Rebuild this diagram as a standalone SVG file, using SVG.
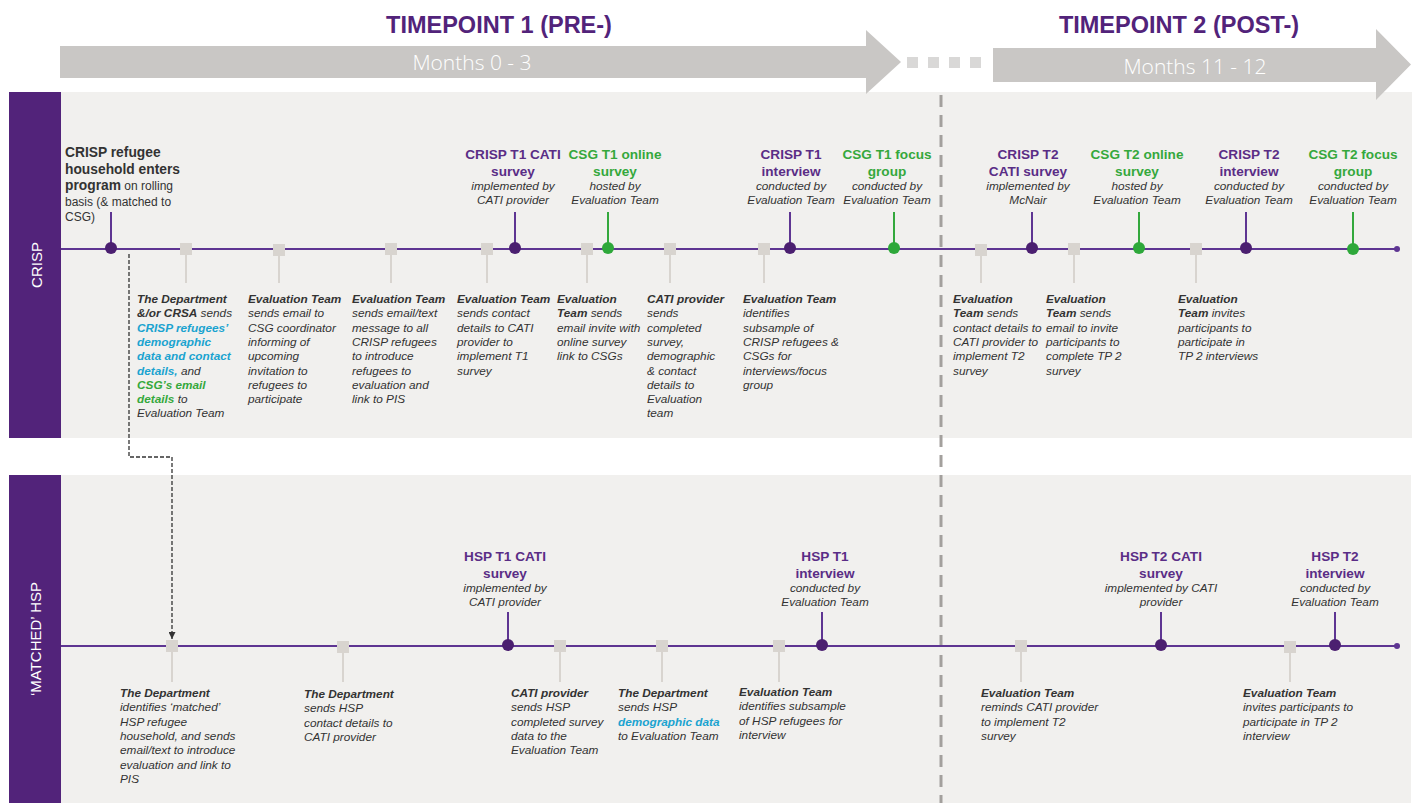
<svg xmlns="http://www.w3.org/2000/svg" width="1416" height="803" viewBox="0 0 1416 803">
<defs>
<style>
.band{fill:#f1f0ee}
.side{fill:#52237a}
.side-label{font-family:"Liberation Sans",Arial,sans-serif;font-size:15px;fill:#ffffff;text-anchor:middle}
.tp{font-family:"Liberation Sans",Arial,sans-serif;font-size:23.5px;font-weight:bold;fill:#52237a;text-anchor:middle}
.months{font-family:"Open Sans",sans-serif;font-size:21px;font-weight:300;fill:#ffffff;text-anchor:middle}
.hdr-arrow{fill:#c9c7c5}
.gap-dot{fill:#d9d8d7}
.axis{stroke:#5e3592;stroke-width:2}
.end{fill:#5e3592}
.stem-p{stroke:#5e3592;stroke-width:2}
.stem-g{stroke:#33a83c;stroke-width:2}
.dot-p{fill:#4b1f70}
.dot-g{fill:#2ea83a}
.step{fill:#d8d4cf}
.stem-s{stroke:#d8d4cf;stroke-width:2}
.ttl{font-family:"Liberation Sans",Arial,sans-serif;font-size:13.6px;font-weight:bold;text-anchor:middle}
.ttl-p{fill:#5a2d86}
.ttl-g{fill:#35a83c}
.sub{font-family:"Liberation Sans",Arial,sans-serif;font-size:11.8px;font-style:italic;fill:#333333;text-anchor:middle}
.desc{font-family:"Liberation Sans",Arial,sans-serif;font-size:11.8px;font-style:italic;fill:#333333}
.lead{font-family:"Liberation Sans",Arial,sans-serif;font-size:12px;fill:#333333}
.lead-b{font-size:13.8px;font-weight:bold}
.b{font-weight:bold}
.cy{fill:#1aa3d0;font-weight:bold}
.gr{fill:#35a83c;font-weight:bold}
.divider{stroke:#a3a09d;stroke-width:3;stroke-dasharray:12 8}
.link{fill:none;stroke:#333333;stroke-width:1.3;stroke-dasharray:4 2}
</style>
<marker id="tip" viewBox="0 0 8 8" refX="8" refY="4" markerWidth="7" markerHeight="7" markerUnits="userSpaceOnUse" orient="auto">
<path d="M0,0 L8,4 L0,8 z" fill="#333333"/>
</marker>
</defs>

<!-- swimlane backgrounds -->
<g id="lanes">
<rect class="band" x="61" y="92" width="1351" height="346"/>
<rect class="side" x="9" y="92" width="52" height="346"/>
<text class="side-label" transform="translate(41.5,265) rotate(-90)">CRISP</text>
<rect class="band" x="61" y="475" width="1350" height="328"/>
<rect class="side" x="9" y="475" width="52" height="328"/>
<text class="side-label" transform="translate(41,639) rotate(-90)">‘MATCHED’ HSP</text>
</g>

<!-- boundary between the two timepoints -->
<line class="divider" x1="941" y1="95" x2="941" y2="803"/>

<!-- timepoint header arrows -->
<g id="header">
<polygon class="hdr-arrow" points="60,46 866,46 866,30 901,62 866,94 866,78 60,78"/>
<rect class="gap-dot" x="907" y="57" width="11" height="11"/>
<rect class="gap-dot" x="928" y="57" width="11" height="11"/>
<rect class="gap-dot" x="949" y="57" width="11" height="11"/>
<rect class="gap-dot" x="970" y="57" width="11" height="11"/>
<polygon class="hdr-arrow" points="993,48 1376,48 1376,29 1411,64.5 1376,100 1376,82 993,82"/>
<text class="tp" x="499" y="33">TIMEPOINT 1 (PRE-)</text>
<text class="tp" x="1179" y="33">TIMEPOINT 2 (POST-)</text>
<text class="months" x="472" y="70">Months 0 - 3</text>
<text class="months" x="1195" y="74">Months 11 - 12</text>
</g>

<!-- timeline axes -->
<g id="axes">
<line class="axis" x1="61" y1="249" x2="1397" y2="249"/>
<circle class="end" cx="1397" cy="249" r="3"/>
<line class="axis" x1="61" y1="646" x2="1397" y2="646"/>
<circle class="end" cx="1397" cy="646" r="3"/>
</g>

<!-- connectors -->
<g id="connectors">
<path class="link" d="M129,254 V457 H172 V639" marker-end="url(#tip)"/>
</g>

<!-- ===== CRISP lane: milestones ===== -->
<g id="crisp-enter">
<line class="stem-p" x1="111" y1="212" x2="111" y2="248"/>
<circle class="dot-p" cx="111" cy="248" r="6"/>
<text class="lead" x="65" y="157"><tspan class="lead-b">CRISP refugee</tspan><tspan x="65" y="173.5" class="lead-b">household enters</tspan><tspan x="65" y="190" class="lead-b">program</tspan> on rolling<tspan x="65" y="206">basis (&amp; matched to</tspan><tspan x="65" y="221">CSG)</tspan></text>
</g>

<g id="crisp-t1-cati">
<line class="stem-p" x1="515" y1="212" x2="515" y2="248"/>
<circle class="dot-p" cx="515" cy="248" r="6"/>
<text class="ttl ttl-p" x="513" y="159">CRISP T1 CATI<tspan x="513" y="176">survey</tspan></text>
<text class="sub" x="513" y="190">implemented by<tspan x="513" y="204">CATI provider</tspan></text>
</g>

<g id="csg-t1-online">
<line class="stem-g" x1="608" y1="212" x2="608" y2="248"/>
<circle class="dot-g" cx="608" cy="248" r="6"/>
<text class="ttl ttl-g" x="615" y="159">CSG T1 online<tspan x="615" y="176">survey</tspan></text>
<text class="sub" x="615" y="190">hosted by<tspan x="615" y="204">Evaluation Team</tspan></text>
</g>

<g id="crisp-t1-interview">
<line class="stem-p" x1="790" y1="212" x2="790" y2="248"/>
<circle class="dot-p" cx="790" cy="248" r="6"/>
<text class="ttl ttl-p" x="791" y="159">CRISP T1<tspan x="791" y="176">interview</tspan></text>
<text class="sub" x="791" y="190">conducted by<tspan x="791" y="204">Evaluation Team</tspan></text>
</g>

<g id="csg-t1-focus">
<line class="stem-g" x1="894" y1="212" x2="894" y2="248"/>
<circle class="dot-g" cx="894" cy="248" r="6"/>
<text class="ttl ttl-g" x="887" y="159">CSG T1 focus<tspan x="887" y="176">group</tspan></text>
<text class="sub" x="887" y="190">conducted by<tspan x="887" y="204">Evaluation Team</tspan></text>
</g>

<g id="crisp-t2-cati">
<line class="stem-p" x1="1032" y1="212" x2="1032" y2="248"/>
<circle class="dot-p" cx="1032" cy="248" r="6"/>
<text class="ttl ttl-p" x="1028" y="159">CRISP T2<tspan x="1028" y="176">CATI survey</tspan></text>
<text class="sub" x="1028" y="190">implemented by<tspan x="1028" y="204">McNair</tspan></text>
</g>

<g id="csg-t2-online">
<line class="stem-g" x1="1139" y1="212" x2="1139" y2="248"/>
<circle class="dot-g" cx="1139" cy="248" r="6"/>
<text class="ttl ttl-g" x="1137" y="159">CSG T2 online<tspan x="1137" y="176">survey</tspan></text>
<text class="sub" x="1137" y="190">hosted by<tspan x="1137" y="204">Evaluation Team</tspan></text>
</g>

<g id="crisp-t2-interview">
<line class="stem-p" x1="1246" y1="212" x2="1246" y2="248"/>
<circle class="dot-p" cx="1246" cy="248" r="6"/>
<text class="ttl ttl-p" x="1249" y="159">CRISP T2<tspan x="1249" y="176">interview</tspan></text>
<text class="sub" x="1249" y="190">conducted by<tspan x="1249" y="204">Evaluation Team</tspan></text>
</g>

<g id="csg-t2-focus">
<line class="stem-g" x1="1353" y1="212" x2="1353" y2="249"/>
<circle class="dot-g" cx="1353" cy="249" r="6"/>
<text class="ttl ttl-g" x="1353" y="159">CSG T2 focus<tspan x="1353" y="176">group</tspan></text>
<text class="sub" x="1353" y="190">conducted by<tspan x="1353" y="204">Evaluation Team</tspan></text>
</g>

<!-- ===== CRISP lane: process steps ===== -->
<g id="crisp-step-1">
<line class="stem-s" x1="186" y1="250" x2="186" y2="283"/>
<rect class="step" x="180" y="243" width="12" height="12"/>
<text class="desc" x="137" y="303"><tspan class="b">The Department</tspan><tspan x="137" dy="14.3"><tspan class="b">&amp;/or CRSA</tspan> sends</tspan><tspan x="137" dy="14.3" class="cy">CRISP refugees’</tspan><tspan x="137" dy="14.3" class="cy">demographic</tspan><tspan x="137" dy="14.3" class="cy">data and contact</tspan><tspan x="137" dy="14.3"><tspan class="cy">details,</tspan> and</tspan><tspan x="137" dy="14.3" class="gr">CSG’s email</tspan><tspan x="137" dy="14.3"><tspan class="gr">details</tspan> to</tspan><tspan x="137" dy="14.3">Evaluation Team</tspan></text>
</g>

<g id="crisp-step-2">
<line class="stem-s" x1="279" y1="250" x2="279" y2="283"/>
<rect class="step" x="273" y="244" width="12" height="12"/>
<text class="desc" x="248" y="303"><tspan class="b">Evaluation Team</tspan><tspan x="248" dy="14.3">sends email to</tspan><tspan x="248" dy="14.3">CSG coordinator</tspan><tspan x="248" dy="14.3">informing of</tspan><tspan x="248" dy="14.3">upcoming</tspan><tspan x="248" dy="14.3">invitation to</tspan><tspan x="248" dy="14.3">refugees to</tspan><tspan x="248" dy="14.3">participate</tspan></text>
</g>

<g id="crisp-step-3">
<line class="stem-s" x1="391" y1="250" x2="391" y2="283"/>
<rect class="step" x="385" y="243" width="12" height="12"/>
<text class="desc" x="352" y="303"><tspan class="b">Evaluation Team</tspan><tspan x="352" dy="14.3">sends email/text</tspan><tspan x="352" dy="14.3">message to all</tspan><tspan x="352" dy="14.3">CRISP refugees</tspan><tspan x="352" dy="14.3">to introduce</tspan><tspan x="352" dy="14.3">refugees to</tspan><tspan x="352" dy="14.3">evaluation and</tspan><tspan x="352" dy="14.3">link to PIS</tspan></text>
</g>

<g id="crisp-step-4">
<line class="stem-s" x1="487" y1="250" x2="487" y2="283"/>
<rect class="step" x="481" y="243" width="12" height="12"/>
<text class="desc" x="457" y="303"><tspan class="b">Evaluation Team</tspan><tspan x="457" dy="14.3">sends contact</tspan><tspan x="457" dy="14.3">details to CATI</tspan><tspan x="457" dy="14.3">provider to</tspan><tspan x="457" dy="14.3">implement T1</tspan><tspan x="457" dy="14.3">survey</tspan></text>
</g>

<g id="crisp-step-5">
<line class="stem-s" x1="587" y1="250" x2="587" y2="283"/>
<rect class="step" x="581" y="243" width="12" height="12"/>
<text class="desc" x="557" y="303"><tspan class="b">Evaluation</tspan><tspan x="557" dy="14.3"><tspan class="b">Team</tspan> sends</tspan><tspan x="557" dy="14.3">email invite with</tspan><tspan x="557" dy="14.3">online survey</tspan><tspan x="557" dy="14.3">link to CSGs</tspan></text>
</g>

<g id="crisp-step-6">
<line class="stem-s" x1="670" y1="250" x2="670" y2="283"/>
<rect class="step" x="664" y="243" width="12" height="12"/>
<text class="desc" x="647" y="303"><tspan class="b">CATI provider</tspan><tspan x="647" dy="14.3">sends</tspan><tspan x="647" dy="14.3">completed</tspan><tspan x="647" dy="14.3">survey,</tspan><tspan x="647" dy="14.3">demographic</tspan><tspan x="647" dy="14.3">&amp; contact</tspan><tspan x="647" dy="14.3">details to</tspan><tspan x="647" dy="14.3">Evaluation</tspan><tspan x="647" dy="14.3">team</tspan></text>
</g>

<g id="crisp-step-7">
<line class="stem-s" x1="764" y1="250" x2="764" y2="283"/>
<rect class="step" x="758" y="243" width="12" height="12"/>
<text class="desc" x="743" y="303"><tspan class="b">Evaluation Team</tspan><tspan x="743" dy="14.3">identifies</tspan><tspan x="743" dy="14.3">subsample of</tspan><tspan x="743" dy="14.3">CRISP refugees &amp;</tspan><tspan x="743" dy="14.3">CSGs for</tspan><tspan x="743" dy="14.3">interviews/focus</tspan><tspan x="743" dy="14.3">group</tspan></text>
</g>

<g id="crisp-step-8">
<line class="stem-s" x1="981" y1="250" x2="981" y2="283"/>
<rect class="step" x="975" y="244" width="12" height="12"/>
<text class="desc" x="953" y="303"><tspan class="b">Evaluation</tspan><tspan x="953" dy="14.3"><tspan class="b">Team</tspan> sends</tspan><tspan x="953" dy="14.3">contact details to</tspan><tspan x="953" dy="14.3">CATI provider to</tspan><tspan x="953" dy="14.3">implement T2</tspan><tspan x="953" dy="14.3">survey</tspan></text>
</g>

<g id="crisp-step-9">
<line class="stem-s" x1="1074" y1="250" x2="1074" y2="283"/>
<rect class="step" x="1068" y="243" width="12" height="12"/>
<text class="desc" x="1046" y="303"><tspan class="b">Evaluation</tspan><tspan x="1046" dy="14.3"><tspan class="b">Team</tspan> sends</tspan><tspan x="1046" dy="14.3">email to invite</tspan><tspan x="1046" dy="14.3">participants to</tspan><tspan x="1046" dy="14.3">complete TP 2</tspan><tspan x="1046" dy="14.3">survey</tspan></text>
</g>

<g id="crisp-step-10">
<line class="stem-s" x1="1196" y1="250" x2="1196" y2="283"/>
<rect class="step" x="1190" y="243" width="12" height="12"/>
<text class="desc" x="1178" y="303"><tspan class="b">Evaluation</tspan><tspan x="1178" dy="14.3"><tspan class="b">Team</tspan> invites</tspan><tspan x="1178" dy="14.3">participants to</tspan><tspan x="1178" dy="14.3">participate in</tspan><tspan x="1178" dy="14.3">TP 2 interviews</tspan></text>
</g>

<!-- ===== HSP lane: milestones ===== -->
<g id="hsp-t1-cati">
<line class="stem-p" x1="508" y1="612" x2="508" y2="645"/>
<circle class="dot-p" cx="508" cy="645" r="6"/>
<text class="ttl ttl-p" x="505" y="561">HSP T1 CATI<tspan x="505" y="578">survey</tspan></text>
<text class="sub" x="505" y="592">implemented by<tspan x="505" y="606">CATI provider</tspan></text>
</g>

<g id="hsp-t1-interview">
<line class="stem-p" x1="822" y1="612" x2="822" y2="645"/>
<circle class="dot-p" cx="822" cy="645" r="6"/>
<text class="ttl ttl-p" x="825" y="561">HSP T1<tspan x="825" y="578">interview</tspan></text>
<text class="sub" x="825" y="592">conducted by<tspan x="825" y="606">Evaluation Team</tspan></text>
</g>

<g id="hsp-t2-cati">
<line class="stem-p" x1="1161" y1="612" x2="1161" y2="645"/>
<circle class="dot-p" cx="1161" cy="645" r="6"/>
<text class="ttl ttl-p" x="1161" y="561">HSP T2 CATI<tspan x="1161" y="578">survey</tspan></text>
<text class="sub" x="1161" y="592">implemented by CATI<tspan x="1161" y="606">provider</tspan></text>
</g>

<g id="hsp-t2-interview">
<line class="stem-p" x1="1335" y1="612" x2="1335" y2="645"/>
<circle class="dot-p" cx="1335" cy="645" r="6"/>
<text class="ttl ttl-p" x="1335" y="561">HSP T2<tspan x="1335" y="578">interview</tspan></text>
<text class="sub" x="1335" y="592">conducted by<tspan x="1335" y="606">Evaluation Team</tspan></text>
</g>

<!-- ===== HSP lane: process steps ===== -->
<g id="hsp-step-1">
<line class="stem-s" x1="172" y1="647" x2="172" y2="682"/>
<rect class="step" x="166" y="640" width="12" height="12"/>
<text class="desc" x="120" y="697"><tspan class="b">The Department</tspan><tspan x="120" dy="14.3">identifies ‘matched’</tspan><tspan x="120" dy="14.3">HSP refugee</tspan><tspan x="120" dy="14.3">household, and sends</tspan><tspan x="120" dy="14.3">email/text to introduce</tspan><tspan x="120" dy="14.3">evaluation and link to</tspan><tspan x="120" dy="14.3">PIS</tspan></text>
</g>

<g id="hsp-step-2">
<line class="stem-s" x1="343" y1="647" x2="343" y2="682"/>
<rect class="step" x="337" y="641" width="12" height="12"/>
<text class="desc" x="304" y="698"><tspan class="b">The Department</tspan><tspan x="304" dy="14.3">sends HSP</tspan><tspan x="304" dy="14.3">contact details to</tspan><tspan x="304" dy="14.3">CATI provider</tspan></text>
</g>

<g id="hsp-step-3">
<line class="stem-s" x1="560" y1="647" x2="560" y2="682"/>
<rect class="step" x="554" y="640" width="12" height="12"/>
<text class="desc" x="511" y="697"><tspan class="b">CATI provider</tspan><tspan x="511" dy="14.3">sends HSP</tspan><tspan x="511" dy="14.3">completed survey</tspan><tspan x="511" dy="14.3">data to the</tspan><tspan x="511" dy="14.3">Evaluation Team</tspan></text>
</g>

<g id="hsp-step-4">
<line class="stem-s" x1="662" y1="647" x2="662" y2="682"/>
<rect class="step" x="656" y="640" width="12" height="12"/>
<text class="desc" x="618" y="697"><tspan class="b">The Department</tspan><tspan x="618" dy="14.3">sends HSP</tspan><tspan x="618" dy="14.3" class="cy">demographic data</tspan><tspan x="618" dy="14.3">to Evaluation Team</tspan></text>
</g>

<g id="hsp-step-5">
<line class="stem-s" x1="779" y1="647" x2="779" y2="682"/>
<rect class="step" x="773" y="640" width="12" height="12"/>
<text class="desc" x="739" y="696"><tspan class="b">Evaluation Team</tspan><tspan x="739" dy="14.3">identifies subsample</tspan><tspan x="739" dy="14.3">of HSP refugees for</tspan><tspan x="739" dy="14.3">interview</tspan></text>
</g>

<g id="hsp-step-6">
<line class="stem-s" x1="1021" y1="647" x2="1021" y2="682"/>
<rect class="step" x="1015" y="640" width="12" height="12"/>
<text class="desc" x="981" y="697"><tspan class="b">Evaluation Team</tspan><tspan x="981" dy="14.3">reminds CATI provider</tspan><tspan x="981" dy="14.3">to implement T2</tspan><tspan x="981" dy="14.3">survey</tspan></text>
</g>

<g id="hsp-step-7">
<line class="stem-s" x1="1290" y1="647" x2="1290" y2="682"/>
<rect class="step" x="1284" y="641" width="12" height="12"/>
<text class="desc" x="1243" y="697"><tspan class="b">Evaluation Team</tspan><tspan x="1243" dy="14.3">invites participants to</tspan><tspan x="1243" dy="14.3">participate in TP 2</tspan><tspan x="1243" dy="14.3">interview</tspan></text>
</g>
</svg>
